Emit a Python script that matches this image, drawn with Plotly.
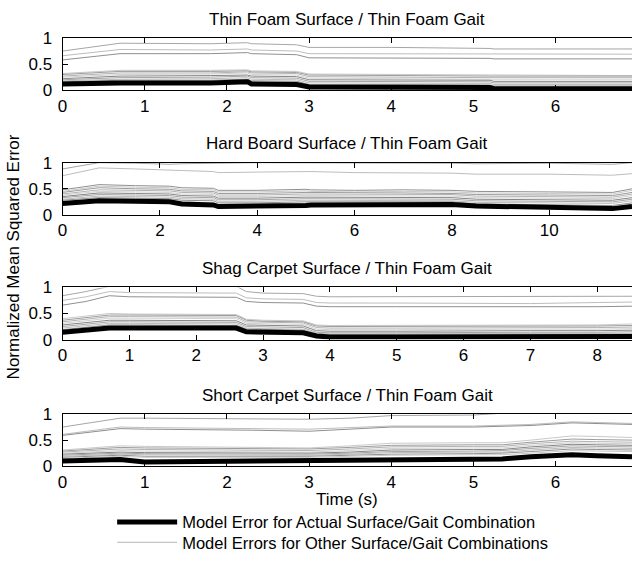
import plotly.graph_objects as go

TITLES = ["Thin Foam Surface / Thin Foam Gait",
          "Hard Board Surface / Thin Foam Gait",
          "Shag Carpet Surface / Thin Foam Gait",
          "Short Carpet Surface / Thin Foam Gait"]
X_MAX = [6.93, 11.7, 8.52, 6.93]
X_DTICK = [1, 2, 1, 1]
Y_TICKS = [0, 0.5, 1]
Y_TICK_LABELS = ["0", "0.5", "1"]

# ---- Panel 1: Thin Foam Surface ----
P1_T = [0, 0.7, 1.8, 2.25, 2.3, 2.85, 3.0, 4.0, 5.2, 5.25, 6.93]
P1_ACTUAL = [0.12, 0.14, 0.14, 0.16, 0.12, 0.11, 0.06, 0.06, 0.05, 0.03, 0.03]
P1_OTHER = [
    [0.75, 0.90, 0.89, 0.91, 0.89, 0.87, 0.82, 0.82, 0.80, 0.79, 0.79],
    [0.66, 0.78, 0.77, 0.79, 0.77, 0.75, 0.70, 0.70, 0.69, 0.69, 0.69],
    [0.58, 0.70, 0.70, 0.72, 0.70, 0.68, 0.62, 0.62, 0.61, 0.60, 0.60],
    [0.32, 0.38, 0.38, 0.39, 0.37, 0.36, 0.31, 0.30, 0.30, 0.29, 0.28],
    [0.30, 0.36, 0.36, 0.37, 0.35, 0.34, 0.29, 0.28, 0.28, 0.27, 0.27],
    [0.27, 0.33, 0.33, 0.35, 0.33, 0.32, 0.26, 0.25, 0.25, 0.24, 0.24],
    [0.25, 0.30, 0.31, 0.33, 0.30, 0.29, 0.23, 0.22, 0.22, 0.21, 0.21],
    [0.22, 0.27, 0.28, 0.29, 0.27, 0.26, 0.20, 0.19, 0.19, 0.17, 0.17],
    [0.20, 0.24, 0.25, 0.27, 0.24, 0.23, 0.17, 0.16, 0.16, 0.14, 0.14],
    [0.18, 0.21, 0.22, 0.24, 0.21, 0.20, 0.14, 0.13, 0.13, 0.11, 0.11],
    [0.16, 0.19, 0.19, 0.21, 0.18, 0.17, 0.11, 0.10, 0.10, 0.08, 0.08],
    [0.14, 0.17, 0.17, 0.19, 0.15, 0.14, 0.09, 0.09, 0.08, 0.06, 0.06],
    [0.10, 0.12, 0.12, 0.14, 0.11, 0.10, 0.05, 0.05, 0.04, 0.02, 0.02],
]

# ---- Panel 2: Hard Board Surface ----
P2_T = [0, 0.75, 1.5, 2.2, 2.45, 3.1, 3.2, 4.0, 5.0, 5.1, 6.0, 7.0, 8.0, 8.5, 10.0, 11.3, 11.7]
P2_ACTUAL = [0.22, 0.27, 0.26, 0.25, 0.21, 0.19, 0.16, 0.16, 0.18, 0.19, 0.19, 0.21, 0.20, 0.17, 0.14, 0.12, 0.16]
P2_OTHER = [
    [0.88, 1.00, 0.99, 0.97, 0.98, 1.00, 0.99, 1.00, 1.00, 1.00, 0.99, 1.00, 0.99, 0.98, 0.99, 0.97, 1.00],
    [0.75, 0.90, 0.88, 0.85, 0.85, 0.83, 0.81, 0.82, 0.84, 0.83, 0.81, 0.80, 0.80, 0.78, 0.78, 0.76, 0.79],
    [0.48, 0.58, 0.56, 0.55, 0.52, 0.51, 0.47, 0.47, 0.49, 0.48, 0.47, 0.48, 0.47, 0.45, 0.44, 0.43, 0.50],
    [0.45, 0.55, 0.53, 0.52, 0.49, 0.48, 0.44, 0.44, 0.46, 0.45, 0.44, 0.45, 0.44, 0.42, 0.41, 0.40, 0.47],
    [0.43, 0.52, 0.50, 0.49, 0.46, 0.45, 0.41, 0.41, 0.43, 0.43, 0.42, 0.42, 0.41, 0.39, 0.38, 0.37, 0.43],
    [0.40, 0.48, 0.47, 0.46, 0.43, 0.42, 0.38, 0.38, 0.40, 0.40, 0.39, 0.40, 0.39, 0.36, 0.35, 0.34, 0.40],
    [0.38, 0.45, 0.44, 0.43, 0.40, 0.39, 0.35, 0.35, 0.37, 0.37, 0.36, 0.37, 0.36, 0.33, 0.32, 0.31, 0.37],
    [0.35, 0.42, 0.41, 0.40, 0.37, 0.36, 0.32, 0.32, 0.34, 0.34, 0.33, 0.34, 0.33, 0.30, 0.29, 0.28, 0.33],
    [0.33, 0.39, 0.38, 0.37, 0.34, 0.33, 0.29, 0.29, 0.31, 0.31, 0.30, 0.31, 0.30, 0.27, 0.26, 0.25, 0.30],
    [0.30, 0.36, 0.35, 0.34, 0.31, 0.30, 0.26, 0.26, 0.28, 0.28, 0.27, 0.28, 0.27, 0.24, 0.23, 0.22, 0.27],
    [0.28, 0.33, 0.32, 0.31, 0.28, 0.27, 0.23, 0.23, 0.25, 0.25, 0.25, 0.26, 0.25, 0.21, 0.20, 0.18, 0.23],
    [0.25, 0.30, 0.29, 0.28, 0.25, 0.23, 0.20, 0.20, 0.22, 0.22, 0.22, 0.23, 0.22, 0.19, 0.17, 0.15, 0.20],
]

# ---- Panel 3: Shag Carpet Surface ----
P3_T = [0, 0.35, 0.7, 1.0, 2.6, 2.75, 3.0, 3.6, 3.8, 4.0, 5.0, 6.0, 7.0, 8.0, 8.55]
P3_ACTUAL = [0.14, 0.18, 0.22, 0.22, 0.22, 0.15, 0.14, 0.13, 0.07, 0.05, 0.05, 0.05, 0.05, 0.06, 0.06]
P3_OTHER = [
    [0.84, 0.92, 1.02, 1.02, 1.02, 0.92, 0.89, 0.88, 0.83, 0.82, 0.82, 0.82, 0.82, 0.83, 0.83],
    [0.75, 0.82, 0.92, 0.90, 0.89, 0.80, 0.78, 0.77, 0.71, 0.70, 0.70, 0.70, 0.69, 0.71, 0.72],
    [0.66, 0.73, 0.84, 0.82, 0.81, 0.73, 0.71, 0.70, 0.64, 0.63, 0.63, 0.63, 0.62, 0.63, 0.64],
    [0.40, 0.45, 0.50, 0.49, 0.48, 0.39, 0.37, 0.36, 0.28, 0.27, 0.27, 0.27, 0.27, 0.28, 0.30],
    [0.37, 0.42, 0.47, 0.47, 0.46, 0.37, 0.35, 0.34, 0.26, 0.25, 0.25, 0.25, 0.25, 0.26, 0.27],
    [0.34, 0.39, 0.44, 0.44, 0.43, 0.34, 0.33, 0.32, 0.23, 0.22, 0.22, 0.22, 0.22, 0.23, 0.24],
    [0.31, 0.36, 0.41, 0.41, 0.40, 0.31, 0.30, 0.29, 0.20, 0.19, 0.19, 0.20, 0.20, 0.20, 0.21],
    [0.28, 0.33, 0.37, 0.37, 0.36, 0.28, 0.27, 0.26, 0.17, 0.16, 0.16, 0.17, 0.17, 0.17, 0.18],
    [0.25, 0.30, 0.34, 0.34, 0.33, 0.25, 0.24, 0.23, 0.14, 0.13, 0.13, 0.14, 0.14, 0.14, 0.15],
    [0.22, 0.27, 0.31, 0.31, 0.30, 0.22, 0.21, 0.20, 0.12, 0.11, 0.11, 0.11, 0.11, 0.12, 0.12],
    [0.19, 0.24, 0.28, 0.28, 0.27, 0.20, 0.19, 0.18, 0.10, 0.09, 0.09, 0.09, 0.09, 0.10, 0.10],
    [0.17, 0.21, 0.25, 0.25, 0.25, 0.18, 0.17, 0.16, 0.09, 0.08, 0.07, 0.07, 0.08, 0.08, 0.08],
    [0.12, 0.16, 0.20, 0.20, 0.20, 0.13, 0.12, 0.11, 0.05, 0.03, 0.03, 0.03, 0.03, 0.04, 0.04],
]

# ---- Panel 4: Short Carpet Surface ----
P4_T = [0, 0.7, 1.0, 2.0, 2.3, 3.0, 3.5, 4.0, 5.0, 5.35, 5.7, 6.2, 6.5, 6.93]
P4_ACTUAL = [0.10, 0.13, 0.08, 0.09, 0.09, 0.10, 0.12, 0.13, 0.13, 0.14, 0.18, 0.22, 0.20, 0.18]
P4_OTHER = [
    [0.75, 0.92, 0.92, 0.91, 0.91, 0.90, 0.92, 0.97, 0.98, 1.02, 1.05, 1.08, 1.08, 1.08],
    [0.61, 0.75, 0.74, 0.72, 0.72, 0.71, 0.74, 0.77, 0.77, 0.78, 0.80, 0.85, 0.84, 0.82],
    [0.59, 0.72, 0.71, 0.70, 0.69, 0.67, 0.71, 0.75, 0.75, 0.76, 0.78, 0.83, 0.82, 0.80],
    [0.31, 0.39, 0.38, 0.37, 0.37, 0.35, 0.39, 0.44, 0.45, 0.45, 0.50, 0.58, 0.57, 0.55],
    [0.29, 0.36, 0.35, 0.34, 0.34, 0.33, 0.36, 0.40, 0.41, 0.41, 0.46, 0.52, 0.51, 0.50],
    [0.27, 0.33, 0.32, 0.31, 0.31, 0.30, 0.33, 0.37, 0.38, 0.38, 0.43, 0.48, 0.47, 0.46],
    [0.25, 0.30, 0.29, 0.28, 0.28, 0.27, 0.30, 0.34, 0.35, 0.35, 0.40, 0.45, 0.44, 0.43],
    [0.23, 0.27, 0.26, 0.26, 0.25, 0.25, 0.27, 0.31, 0.32, 0.32, 0.37, 0.42, 0.41, 0.40],
    [0.21, 0.25, 0.24, 0.24, 0.23, 0.23, 0.25, 0.28, 0.29, 0.30, 0.34, 0.39, 0.38, 0.37],
    [0.19, 0.23, 0.22, 0.21, 0.21, 0.21, 0.23, 0.26, 0.27, 0.27, 0.31, 0.36, 0.35, 0.34],
    [0.17, 0.21, 0.19, 0.19, 0.19, 0.19, 0.21, 0.23, 0.24, 0.25, 0.28, 0.33, 0.32, 0.31],
    [0.15, 0.19, 0.17, 0.17, 0.17, 0.17, 0.19, 0.21, 0.22, 0.22, 0.25, 0.30, 0.29, 0.28],
]

PANELS = [(P1_T, P1_ACTUAL, P1_OTHER), (P2_T, P2_ACTUAL, P2_OTHER),
          (P3_T, P3_ACTUAL, P3_OTHER), (P4_T, P4_ACTUAL, P4_OTHER)]

# ---- styling ----
W, H = 632, 569
FONT = "Liberation Sans, Arial, sans-serif"
FS = 17
LEG_FS = 16.5
GRAYS = ["#a6a6a6", "#bdbdbd", "#8f8f8f", "#c9c9c9", "#9c9c9c", "#b3b3b3", "#d2d2d2", "#858585"]
PLOT_LEFT = 58
PANEL_TOP = [30, 159, 288, 419]
PANEL_H = 54

fig = go.Figure()
for i, (t, actual, others) in enumerate(PANELS):
    ax = "" if i == 0 else str(i + 1)
    for j, ys in enumerate(others):
        fig.add_trace(go.Scatter(
            x=t, y=ys, mode="lines", xaxis="x" + ax, yaxis="y" + ax,
            line=dict(color=GRAYS[j % len(GRAYS)], width=1),
            name="Model Errors for Other Surface/Gait Combinations",
            legendgroup="other", showlegend=False, hoverinfo="skip"))
    fig.add_trace(go.Scatter(
        x=t, y=actual, mode="lines", xaxis="x" + ax, yaxis="y" + ax,
        line=dict(color="black", width=5),
        name="Model Error for Actual Surface/Gait Combination",
        legendgroup="actual", showlegend=(i == 0), legend="legend"))

# legend entry for the gray lines
fig.add_trace(go.Scatter(
    x=[None], y=[None], mode="lines", line=dict(color="#b5b5b5", width=1),
    name="Model Errors for Other Surface/Gait Combinations",
    legendgroup="other", showlegend=True, legend="legend2"))

leg_common = dict(xanchor="left", yanchor="middle", itemwidth=60,
                  font=dict(size=LEG_FS), bgcolor="rgba(0,0,0,0)")
layout = dict(
    width=W, height=H, margin=dict(l=0, r=0, t=0, b=0),
    paper_bgcolor="white", plot_bgcolor="white",
    font=dict(family=FONT, size=FS, color="black"),
    showlegend=True,
    legend=dict(x=108 / W, y=1 - 531 / H, **leg_common),
    legend2=dict(x=108 / W, y=1 - 552 / H, **leg_common),
    annotations=[],
)
for i in range(4):
    ax = "" if i == 0 else str(i + 1)
    top = PANEL_TOP[i]
    layout["xaxis" + ax] = dict(
        domain=[PLOT_LEFT / W, 1], anchor="y" + ax, range=[0, X_MAX[i]],
        dtick=X_DTICK[i], tick0=0, showline=True, linecolor="black", linewidth=1,
        mirror="ticks", ticks="inside", ticklen=5, tickcolor="black",
        showgrid=False, zeroline=False, tickfont=dict(size=FS), ticklabelstandoff=0)
    layout["yaxis" + ax] = dict(
        domain=[1 - (top + PANEL_H) / H, 1 - top / H], anchor="x" + ax,
        range=[0, 1], tickvals=Y_TICKS, ticktext=Y_TICK_LABELS,
        showline=True, linecolor="black", linewidth=1, ticks="inside",
        ticklen=5, tickcolor="black", showgrid=False, zeroline=False,
        tickfont=dict(size=FS), ticklabelstandoff=6)
    layout["annotations"].append(dict(
        text=TITLES[i], x=(PLOT_LEFT + W) / 2 / W, y=1 - (top - 19.5) / H,
        xref="paper", yref="paper", showarrow=False, xanchor="center",
        yanchor="middle", font=dict(size=FS)))

layout["annotations"].append(dict(
    text="Normalized Mean Squared Error", x=9 / W, y=1 - 256 / H,
    xref="paper", yref="paper", showarrow=False, textangle=-90,
    xanchor="center", yanchor="middle", font=dict(size=FS)))
layout["annotations"].append(dict(
    text="Time (s)", x=(PLOT_LEFT + W) / 2 / W, y=1 - 507 / H,
    xref="paper", yref="paper", showarrow=False, xanchor="center",
    yanchor="middle", font=dict(size=FS)))

fig.update_layout(**layout)
fig.write_html("out.html", config={"displayModeBar": False},
               post_script="document.body.style.margin='0';document.body.style.overflow='hidden';")
